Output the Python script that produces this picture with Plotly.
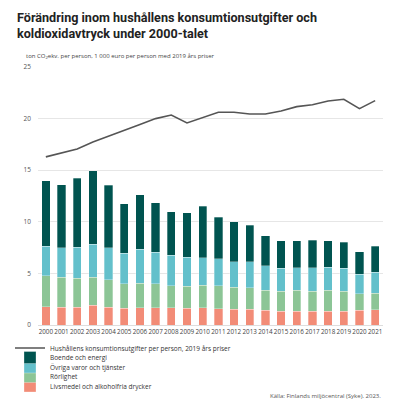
import plotly.graph_objects as go

years = [str(y) for y in range(2000, 2022)]
livsmedel = [1.77, 1.74, 1.74, 1.90, 1.74, 1.61, 1.68, 1.68, 1.68, 1.61, 1.68, 1.58, 1.52, 1.52, 1.45, 1.35, 1.35, 1.32, 1.32, 1.32, 1.45, 1.48]
rorlighet_top = [4.77, 4.61, 4.55, 4.65, 4.39, 4.00, 4.03, 4.00, 3.81, 3.77, 3.84, 3.81, 3.65, 3.61, 3.39, 3.29, 3.35, 3.29, 3.35, 3.26, 3.03, 3.10]
ovriga_top = [7.61, 7.48, 7.52, 7.81, 7.48, 6.94, 7.32, 7.03, 6.77, 6.55, 6.50, 6.42, 6.13, 6.13, 5.74, 5.48, 5.55, 5.55, 5.58, 5.48, 4.90, 5.13]
totals = [13.97, 13.58, 14.23, 14.94, 13.52, 11.74, 12.61, 11.87, 10.97, 10.90, 11.50, 10.42, 10.00, 9.68, 8.65, 8.16, 8.16, 8.23, 8.16, 8.03, 7.10, 7.65]
konsumtion = [16.29, 16.70, 17.06, 17.74, 18.29, 18.81, 19.42, 20.00, 20.35, 19.58, 20.13, 20.61, 20.61, 20.45, 20.45, 20.74, 21.16, 21.35, 21.71, 21.87, 20.97, 21.74]

rorlighet = [round(b - a, 2) for a, b in zip(livsmedel, rorlighet_top)]
ovriga = [round(b - a, 2) for a, b in zip(rorlighet_top, ovriga_top)]
boende = [round(b - a, 2) for a, b in zip(ovriga_top, totals)]

y_ticks = [0, 5, 10, 15, 20, 25]

BODY = "Open Sans, Noto Sans, sans-serif"
TITLE_FONT = "Roboto, Lato, sans-serif"

# The page body adds an 8px offset; the figure is sized to fill the window.
OFF = 8
W, H = 400 - OFF, 403 - OFF
PLOT_L, PLOT_R, PLOT_T, PLOT_B = 38, 383, 67, 325  # in window pixels
ML, MR, MT, MB = PLOT_L - OFF, 400 - PLOT_R, PLOT_T - OFF, 403 - PLOT_B
PH = PLOT_B - PLOT_T
PW = PLOT_R - PLOT_L


def py(pix):
    return (PLOT_B - pix) / PH


def px(pix):
    return (pix - PLOT_L) / PW


fig = go.Figure()
series = [
    ("Livsmedel och alkoholfria drycker", livsmedel, "#f28c77", "legend5"),
    ("Rörlighet", rorlighet, "#8cc596", "legend4"),
    ("Övriga varor och tjänster", ovriga, "#63c0cb", "legend3"),
    ("Boende och energi", boende, "#005450", "legend2"),
]
for name, vals, col, lg in series:
    fig.add_trace(go.Bar(
        x=years, y=vals, name=name, marker_color=col,
        marker_line=dict(color="rgba(255,255,255,0.6)", width=0.5),
        legend=lg,
    ))
fig.add_trace(go.Scatter(
    x=years, y=konsumtion, mode="lines",
    name="Hushållens konsumtionsutgifter per person, 2019 års priser",
    line=dict(color="#555555", width=1.6), legend="legend",
))

leg_common = dict(
    font=dict(size=6.5, color="#333333", family=BODY), itemwidth=30,
    bgcolor="rgba(0,0,0,0)", xanchor="left", yanchor="middle",
    x=px(10), orientation="v",
)
leg_y = [348, 357.5, 367, 376.5, 386]
legends = {}
for i, key in enumerate(["legend", "legend2", "legend3", "legend4", "legend5"]):
    legends[key] = dict(leg_common, y=py(leg_y[i]))

title_text = ('<b>Förändring inom hushållens konsumtionsutgifter och'
              '<br>koldioxidavtryck under 2000-talet</b>')

fig.update_layout(
    width=W, height=H,
    barmode="stack", bargap=0.47,
    plot_bgcolor="white", paper_bgcolor="white",
    margin=dict(l=ML, r=MR, t=MT, b=MB, autoexpand=False),
    font=dict(family=BODY, size=7, color="#333333"),
    xaxis=dict(
        type="category", tickfont=dict(size=6.3, color="#444444"), tickangle=0,
        showgrid=False, showline=True, linecolor="#dddddd", ticks="",
    ),
    yaxis=dict(
        range=[0, 25], tickvals=y_ticks, showgrid=True, gridcolor="#e6e6e6",
        gridwidth=1, zeroline=False, tickfont=dict(size=6.5, color="#555555"),
        ticklabelstandoff=6,
    ),
    showlegend=True,
    **legends,
    annotations=[
        dict(text=title_text,
             xref="paper", yref="paper", x=px(15), y=py(8), xanchor="left", yanchor="top",
             align="left", showarrow=False,
             font=dict(family=TITLE_FONT, size=12.6, color="#222222")),
        dict(text="ton CO<sub>2</sub>ekv. per person, 1 000 euro per person med 2019 års priser",
             xref="paper", yref="paper", x=px(24), y=py(56), xanchor="left", yanchor="middle",
             showarrow=False, font=dict(size=6, color="#444444")),
        dict(text="Källa: Finlands miljöcentral (Syke). 2023.",
             xref="paper", yref="paper", x=px(383), y=py(396), xanchor="right", yanchor="middle",
             showarrow=False, font=dict(size=6, color="#555555")),
    ],
)

fig.write_html("out.html")
